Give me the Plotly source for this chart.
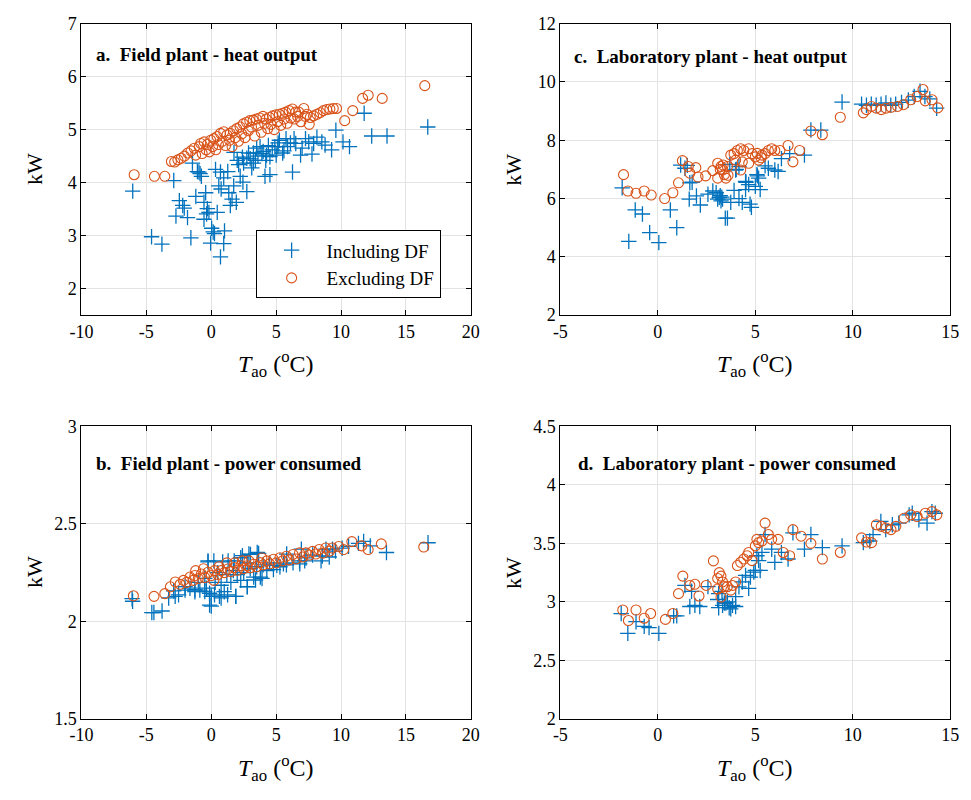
import plotly.graph_objects as go

# ---------------- data ----------------
# a. Field plant - heat output (kW) vs outdoor air temperature (degC)
a_incl_x = [-6.05, -4.6, -3.8, -2.89, -2.72, -2.46, -2.2, -2.08, -1.83, -1.57, -1.45, -1.19, -1.07, -0.95,
            -0.86, -0.76, -0.56, -0.56, -0.43, -0.36, -0.3, -0.18, -0.05, 0.03, 0.15, 0.25, 0.33, 0.46, 0.58,
            0.71, 0.71, 0.76, 0.96, 0.96, 1.02, 1.27, 1.35, 1.47, 1.6, 1.73, 1.75, 1.93, 2.0, 2.11, 2.23, 2.4,
            2.44, 2.49, 2.74, 2.74, 2.87, 3.0, 3.12, 3.25, 3.25, 3.4, 3.5, 3.6, 3.76, 3.9, 4.0, 4.14, 4.2, 4.26,
            4.4, 4.52, 4.52, 4.7, 4.9, 5.0, 5.13, 5.15, 5.25, 5.5, 5.6, 5.76, 5.88, 6.1, 6.26, 6.38, 6.51, 6.88,
            7.0, 7.26, 7.51, 7.76, 7.89, 8.14, 8.52, 8.77, 9.27, 9.6, 10.15, 10.65, 11.78, 12.36, 13.54, 16.68]
a_incl_y = [3.84, 2.98, 2.84, 4.04, 3.37, 3.66, 3.57, 3.52, 3.34, 2.96, 4.37, 3.74, 4.21, 4.2,
            4.17, 4.12, 3.63, 3.31, 3.81, 3.41, 3.51, 3.44, 2.86, 3.14, 3.07, 3.04, 4.25, 3.44, 3.94,
            4.2, 2.6, 3.88, 4.09, 2.85, 3.09, 4.21, 3.81, 3.57, 3.69, 3.94, 4.57, 3.63, 4.42, 4.34, 4.12, 4.48,
            4.01, 4.37, 3.83, 4.46, 4.56, 4.45, 4.28, 4.37, 4.56, 4.42, 4.65, 4.5, 4.68, 4.55, 4.59, 4.12, 4.42, 4.52,
            4.7, 4.49, 4.15, 4.62, 4.68, 4.52, 4.68, 4.75, 4.8, 4.56, 4.6, 4.83, 4.68, 4.75, 4.2, 4.83, 4.74, 4.52,
            4.65, 4.83, 4.77, 4.54, 4.74, 4.86, 4.77, 4.71, 4.62, 4.99, 4.77, 4.68, 5.31, 4.88, 4.88, 5.05]
a_excl_x = [-5.94, -4.38, -3.58, -3.07, -2.82, -2.57, -2.32, -2.07, -1.81, -1.56, -1.31, -1.2, -0.93, -0.81,
            -0.7, -0.55, -0.4, -0.3, -0.15, -0.05, 0.1, 0.2, 0.35, 0.45, 0.55, 0.71, 0.85, 0.96, 1.1, 1.21,
            1.4, 1.46, 1.6, 1.71, 1.85, 1.96, 2.1, 2.22, 2.35, 2.47, 2.6, 2.72, 2.85, 2.97, 3.1, 3.23, 3.35,
            3.48, 3.6, 3.73, 3.85, 3.98, 4.1, 4.23, 4.35, 4.48, 4.6, 4.73, 4.85, 4.98, 5.1, 5.24, 5.35, 5.49,
            5.6, 5.74, 5.85, 6.0, 6.12, 6.25, 6.4, 6.5, 6.65, 6.75, 6.9, 7.13, 7.25, 7.38, 7.55, 7.63, 7.88,
            8.14, 8.39, 8.64, 8.89, 9.14, 9.4, 9.65, 10.28, 10.9, 11.66, 12.09, 13.17, 16.45]
a_excl_y = [4.15, 4.12, 4.12, 4.4, 4.39, 4.43, 4.46, 4.5, 4.56, 4.6, 4.65, 4.52, 4.68, 4.74,
            4.55, 4.77, 4.62, 4.72, 4.58, 4.8, 4.68, 4.83, 4.62, 4.87, 4.72, 4.93, 4.78, 4.96, 4.7, 4.9,
            4.8, 4.93, 4.68, 4.98, 4.85, 5.02, 4.78, 5.05, 4.92, 5.11, 4.85, 5.14, 4.98, 5.17, 5.05, 5.18, 4.88,
            5.2, 5.08, 5.22, 4.95, 5.25, 5.12, 5.2, 5.02, 5.23, 5.1, 5.26, 5.0, 5.28, 5.15, 5.29, 5.08, 5.31,
            5.2, 5.33, 5.12, 5.36, 5.22, 5.39, 5.2, 5.33, 5.25, 5.33, 5.15, 5.4, 5.25, 5.29, 5.1, 5.23, 5.26,
            5.29, 5.32, 5.36, 5.38, 5.39, 5.4, 5.4, 5.17, 5.36, 5.59, 5.65, 5.59, 5.83]

# b. Field plant - power consumed (kW)
b_incl_x = [-6.1, -6.06, -4.58, -4.42, -3.79, -3.28, -2.9, -2.78, -2.52, -2.02, -2.02, -1.64, -1.26, -1.26,
            -1.0, -0.88, -0.5, -0.5, -0.38, -0.25, -0.25, -0.13, -0.13, 0.0, 0.0, 0.2, 0.25, 0.3, 0.5, 0.63,
            0.76, 0.76, 0.88, 1.0, 1.2, 1.26, 1.3, 1.51, 1.7, 1.77, 1.89, 1.89, 2.0, 2.27, 2.27, 2.4, 2.5,
            2.77, 2.78, 2.77, 2.9, 3.0, 3.02, 3.27, 3.41, 3.5, 3.54, 3.65, 3.78, 3.91, 4.0, 4.28, 4.5, 4.79,
            5.05, 5.29, 5.56, 5.79, 5.81, 6.3, 6.8, 6.82, 6.94, 7.2, 7.3, 7.81, 8.46, 8.56, 8.84, 9.09, 9.34,
            9.57, 10.08, 10.58, 11.34, 11.74, 12.25, 13.5, 16.7]
b_incl_y = [2.116, 2.103, 2.045, 2.045, 2.053, 2.12, 2.156, 2.128, 2.136, 2.16, 2.178, 2.17, 2.152, 2.162,
            2.2, 2.16, 2.22, 2.153, 2.17, 2.305, 2.31, 2.144, 2.083, 2.128, 2.078, 2.31, 2.136, 2.2, 2.25, 2.128,
            2.185, 2.12, 2.305, 2.152, 2.24, 2.136, 2.31, 2.2, 2.26, 2.31, 2.128, 2.128, 2.24, 2.21, 2.326, 2.337, 2.25,
            2.177, 2.178, 2.3, 2.345, 2.27, 2.343, 2.227, 2.212, 2.28, 2.353, 2.348, 2.227, 2.22, 2.29, 2.26, 2.3, 2.265,
            2.287, 2.28, 2.295, 2.29, 2.345, 2.3, 2.31, 2.295, 2.37, 2.31, 2.325, 2.34, 2.31, 2.335, 2.37, 2.33, 2.37,
            2.36, 2.375, 2.385, 2.4, 2.41, 2.387, 2.353, 2.403]
b_excl_x = [-6.0, -4.41, -3.58, -3.15, -2.77, -2.4, -2.14, -1.9, -1.64, -1.4, -1.26, -1.2, -1.0, -0.76,
            -0.6, -0.5, -0.25, 0.0, 0.2, 0.25, 0.5, 0.6, 0.76, 1.0, 1.2, 1.26, 1.5, 1.76, 1.8, 2.0, 2.27,
            2.4, 2.5, 2.77, 2.9, 3.0, 3.27, 3.5, 3.78, 3.9, 4.0, 4.28, 4.5, 4.79, 5.0, 5.29, 5.5, 5.79, 6.0,
            6.3, 6.55, 6.8, 7.05, 7.3, 7.55, 7.81, 8.05, 8.31, 8.6, 8.82, 9.1, 9.32, 9.82, 10.2, 10.83,
            11.59, 12.09, 13.1, 16.37]
b_excl_y = [2.131, 2.128, 2.142, 2.177, 2.202, 2.19, 2.21, 2.2, 2.227, 2.21, 2.235, 2.26, 2.22, 2.243,
            2.27, 2.225, 2.252, 2.235, 2.21, 2.26, 2.24, 2.28, 2.26, 2.25, 2.3, 2.268, 2.255, 2.276, 2.3, 2.262, 2.285,
            2.31, 2.27, 2.285, 2.31, 2.275, 2.293, 2.28, 2.301, 2.325, 2.29, 2.31, 2.295, 2.318, 2.3, 2.326, 2.31,
            2.334, 2.315, 2.343, 2.32, 2.351, 2.33, 2.351, 2.34, 2.359, 2.345, 2.368, 2.35, 2.376, 2.36, 2.376,
            2.384, 2.368, 2.409, 2.387, 2.368, 2.397, 2.381]

# c. Laboratory plant - heat output (kW)
c_incl_x = [-1.83, -1.49, -1.16, -0.79, -0.42, 0.05, 0.64, 0.97, 1.17, 1.39, 1.51, 1.64, 1.61, 1.76, 1.98,
            2.18, 2.57, 2.82, 2.99, 3.07, 3.15, 3.2, 3.24, 3.28, 3.32, 3.46, 3.57, 3.69, 3.74, 3.91, 3.99,
            4.02, 4.16, 4.16, 4.33, 4.5, 4.5, 4.52, 4.66, 4.73, 4.8, 5.0, 5.08, 5.11, 5.17, 5.25, 5.5, 5.67,
            6.0, 6.17, 6.34, 6.76, 7.52, 7.85, 8.36, 9.45, 10.45, 10.7, 10.95, 11.2, 11.45, 11.7, 11.95,
            12.2, 12.5, 12.85, 13.15, 13.45, 13.7, 13.95, 14.3]
c_incl_y = [6.37, 4.53, 5.61, 5.47, 4.83, 4.49, 5.61, 5.0, 7.15, 7.04, 7.14, 6.54, 5.98, 6.56, 6.09,
            5.78, 6.15, 6.26, 6.2, 5.98, 6.04, 6.1, 5.92, 6.05, 5.98, 5.33, 5.33, 7.17, 5.87, 6.28, 6.98,
            7.0, 7.1, 6.0, 5.87, 6.59, 6.31, 6.56, 6.48, 5.81, 5.7, 6.42, 6.82, 6.78, 6.7, 6.31, 7.12, 7.04,
            6.98, 6.93, 7.37, 7.54, 7.49, 8.35, 8.35, 9.31, 9.24, 9.2, 9.24, 9.2, 9.24, 9.28, 9.2,
            9.24, 9.3, 9.38, 9.5, 9.68, 9.5, 9.42, 9.1]
c_excl_x = [-1.76, -1.54, -1.12, -0.7, -0.34, 0.35, 0.77, 1.06, 1.26, 1.56, 1.64, 1.95, 2.06, 2.45, 2.82,
            3.07, 3.07, 3.2, 3.24, 3.32, 3.35, 3.41, 3.49, 3.57, 3.6, 3.74, 3.91, 3.99, 4.08, 4.25, 4.25,
            4.33, 4.41, 4.66, 4.66, 4.83, 5.0, 5.1, 5.17, 5.3, 5.34, 5.5, 5.67, 5.84, 6.0, 6.26, 6.68, 6.93,
            7.27, 7.85, 8.44, 9.36, 10.54, 10.7, 10.96, 11.2, 11.46, 11.7, 11.96, 12.3, 12.6, 12.97, 13.3,
            13.6, 13.72, 14.06, 14.36]
c_excl_y = [6.82, 6.26, 6.18, 6.26, 6.12, 6.0, 6.2, 6.54, 7.3, 7.1, 6.87, 7.06, 6.74, 6.78, 6.96,
            7.21, 6.7, 7.0, 7.1, 6.98, 7.15, 6.82, 6.7, 7.1, 6.8, 7.49, 7.54, 7.32, 7.65, 7.71, 6.98,
            7.26, 7.65, 7.71, 7.21, 7.54, 7.43, 7.55, 7.32, 7.4, 7.49, 7.54, 7.65, 7.71, 7.65, 7.65, 7.82, 7.26,
            7.65, 8.32, 8.19, 8.79, 8.94, 9.05, 9.16, 9.1, 9.05, 9.1, 9.13, 9.16, 9.22, 9.39, 9.5,
            9.74, 9.35, 9.39, 9.11]

# d. Laboratory plant - power consumed (kW)
d_incl_x = [-1.88, -1.54, -1.12, -0.7, -0.45, 0.05, 0.81, 0.97, 1.39, 1.64, 1.73, 1.9, 2.15, 2.57, 3.07,
            3.12, 3.12, 3.29, 3.32, 3.41, 3.49, 3.57, 3.66, 3.74, 3.83, 3.99, 3.99, 4.16, 4.33, 4.5, 4.66,
            4.75, 4.92, 5.0, 5.08, 5.17, 5.25, 5.34, 5.5, 5.84, 6.0, 6.34, 6.68, 6.93, 7.52, 7.85, 8.44,
            9.45, 10.54, 10.87, 11.04, 11.44, 11.69, 12.03, 12.36, 12.89, 13.05, 13.39, 13.81, 14.06, 14.23]
d_incl_y = [2.9, 2.73, 2.83, 2.79, 2.78, 2.73, 2.88, 2.88, 3.14, 2.96, 3.09, 2.97, 2.96, 3.13, 3.02,
            2.95, 3.07, 3.09, 2.97, 2.99, 2.99, 3.0, 2.95, 2.94, 2.97, 2.96, 3.045, 3.128, 3.17, 3.226, 3.115,
            3.212, 3.254, 3.268, 3.394, 3.352, 3.268, 3.422, 3.575, 3.45, 3.338, 3.422, 3.366, 3.589, 3.45, 3.575, 3.464,
            3.478, 3.506, 3.52, 3.575, 3.687, 3.617, 3.659, 3.673, 3.743, 3.757, 3.701, 3.673, 3.771, 3.757]
d_excl_x = [-1.8, -1.51, -1.12, -0.7, -0.37, 0.39, 0.77, 1.06, 1.28, 1.64, 1.9, 2.11, 2.48, 2.85, 3.07,
            3.07, 3.15, 3.24, 3.24, 3.32, 3.41, 3.57, 3.74, 3.83, 3.99, 4.08, 4.25, 4.41, 4.58, 4.66, 4.83,
            5.0, 5.08, 5.17, 5.34, 5.5, 5.67, 5.84, 6.17, 6.43, 6.76, 6.93, 7.35, 7.85, 8.44, 9.36, 10.45,
            10.7, 10.96, 11.21, 11.46, 11.71, 11.96, 12.21, 12.63, 12.97, 13.3, 13.72, 14.06, 14.31]
d_excl_y = [2.93, 2.84, 2.93, 2.86, 2.9, 2.85, 2.9, 3.07, 3.22, 3.14, 3.15, 3.05, 3.14, 3.35, 3.2,
            3.11, 3.25, 3.22, 3.04, 3.17, 3.13, 3.13, 3.1, 3.14, 3.17, 3.31, 3.338, 3.366, 3.394, 3.422, 3.352,
            3.478, 3.534, 3.506, 3.52, 3.673, 3.575, 3.534, 3.534, 3.422, 3.394, 3.617, 3.561, 3.5, 3.366, 3.422, 3.547,
            3.511, 3.506, 3.659, 3.645, 3.631, 3.617, 3.645, 3.715, 3.743, 3.729, 3.757, 3.771, 3.743]

panel_titles = ["a.  Field plant - heat output", "b.  Field plant - power consumed",
                "c.  Laboratory plant - heat output", "d.  Laboratory plant - power consumed"]

# ---------------- styling ----------------
BLUE = "#0072BD"
ORANGE = "#D95319"
FONT = "Liberation Serif"
W, H = 971, 800

fig = go.Figure()

panels = [
    ("x", "y", a_incl_x, a_incl_y, a_excl_x, a_excl_y),
    ("x2", "y2", b_incl_x, b_incl_y, b_excl_x, b_excl_y),
    ("x3", "y3", c_incl_x, c_incl_y, c_excl_x, c_excl_y),
    ("x4", "y4", d_incl_x, d_incl_y, d_excl_x, d_excl_y),
]

for i, (xa, ya, ix, iy, ex, ey) in enumerate(panels):
    fig.add_trace(go.Scatter(
        x=ix, y=iy, xaxis=xa, yaxis=ya, mode="markers", name="Including DF",
        showlegend=(i == 0),
        marker=dict(symbol="cross-thin", size=11, color=BLUE,
                    line=dict(color=BLUE, width=1.3)),
    ))
    fig.add_trace(go.Scatter(
        x=ex, y=ey, xaxis=xa, yaxis=ya, mode="markers", name="Excluding DF",
        showlegend=(i == 0),
        marker=dict(symbol="circle-open", size=10, color=ORANGE,
                    line=dict(color=ORANGE, width=1.1)),
    ))

# plot-area rectangles in pixels: (left, right, top, bottom)
boxes = [(71, 469, 14, 313), (71, 469, 427, 727), (560.5, 959, 14, 313), (560.5, 959, 427, 727)]
xranges = [[-10, 20], [-10, 20], [-5, 15], [-5, 15]]
yranges = [[1.5, 7], [1.5, 3], [2, 12], [2, 4.5]]
yticks = [[2, 3, 4, 5, 6, 7], [1.5, 2, 2.5, 3], [2, 4, 6, 8, 10, 12], [2, 2.5, 3, 3.5, 4, 4.5]]


def fmt(v):
    return "%g" % v


axis_common = dict(
    showline=True, linecolor="black", linewidth=1, mirror="ticks",
    ticks="inside", ticklen=5, tickcolor="black", tickwidth=1,
    showgrid=True, gridcolor="#e3e3e3", gridwidth=1, zeroline=False,
    tickfont=dict(family=FONT, size=18, color="black"),
)

layout_axes = {}
for i, (l, r, t, b) in enumerate(boxes):
    sfx = "" if i == 0 else str(i + 1)
    xt = list(range(int(xranges[i][0]), int(xranges[i][1]) + 1, 5))
    layout_axes["xaxis" + sfx] = dict(
        axis_common, domain=[l / W, r / W], range=xranges[i], anchor="y" + sfx,
        tickvals=xt, ticktext=[fmt(v) for v in xt],
    )
    layout_axes["yaxis" + sfx] = dict(
        axis_common, domain=[1 - b / H, 1 - t / H], range=yranges[i], anchor="x" + sfx,
        tickvals=yticks[i], ticktext=[fmt(v) for v in yticks[i]],
    )

fig.update_layout(**layout_axes)

annotations = []
# panel titles
title_pos = [(84, 46), (84, 465), (572, 48), (576, 465)]
for k, (px, py) in enumerate(title_pos):
    annotations.append(dict(
        text="<b>%s</b>" % panel_titles[k], x=px / W, y=1 - py / H, xref="paper", yref="paper",
        xanchor="left", yanchor="middle", showarrow=False,
        font=dict(family=FONT, size=19, color="black"),
    ))

# axis titles
for (l, r, t, b) in boxes:
    annotations.append(dict(
        text="kW", x=(l - 48) / W, y=1 - (t + b) / 2 / H, xref="paper", yref="paper",
        xanchor="center", yanchor="middle", textangle=-90, showarrow=False,
        font=dict(family=FONT, size=22, color="black"),
    ))
    annotations.append(dict(
        text="<i>T</i><sub>ao</sub> (<sup>o</sup>C)", x=((l + r) / 2) / W, y=1 - (b + 50) / H,
        xref="paper", yref="paper", xanchor="center", yanchor="middle", showarrow=False,
        font=dict(family=FONT, size=24, color="black"),
    ))

fig.update_layout(
    width=W, height=H,
    margin=dict(l=0, r=0, t=0, b=0),
    paper_bgcolor="white", plot_bgcolor="white",
    annotations=annotations,
    legend=dict(
        x=249 / W, y=1 - 226 / H, xanchor="left", yanchor="top",
        bgcolor="white", bordercolor="black", borderwidth=1,
        font=dict(family=FONT, size=19, color="black"),
        itemwidth=60, tracegroupgap=0,
    ),
)

fig.write_html("out.html")
